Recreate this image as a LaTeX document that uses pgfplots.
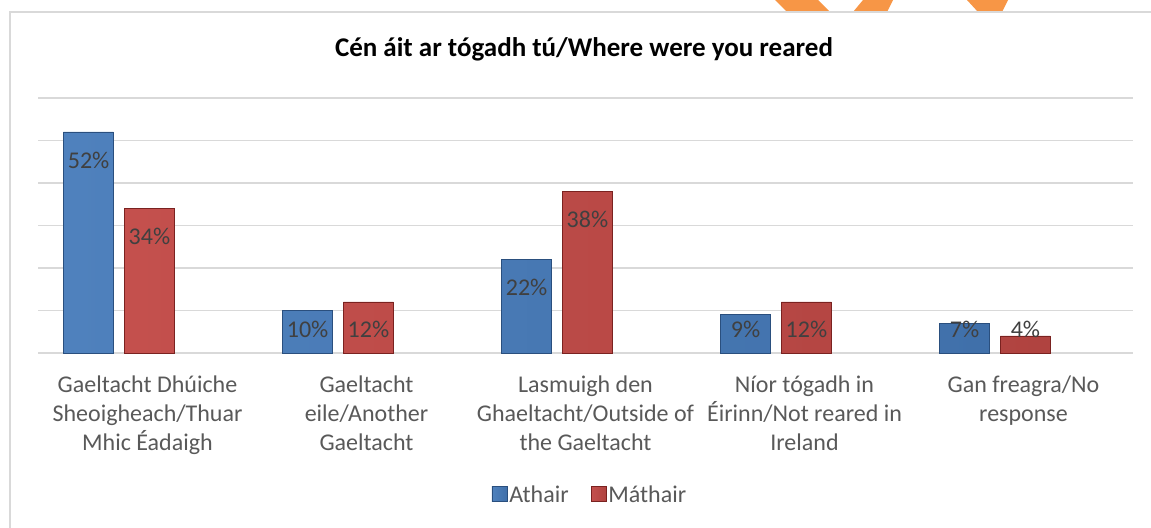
\documentclass[border=0pt]{standalone}
\usepackage{fontspec}
\setmainfont{Carlito}
\usepackage{pgfplots}
\usepackage{pgfplotstable}
\pgfplotsset{compat=1.18}
\definecolor{gridc}{HTML}{D9D9D9}
\definecolor{ticktext}{HTML}{595959}
\definecolor{labtext}{HTML}{404040}
\definecolor{orng}{HTML}{F79646}
\definecolor{bA}{HTML}{6A9AD6}
\definecolor{bB}{HTML}{4F81BD}
\definecolor{bC}{HTML}{4070AA}
\definecolor{bE}{HTML}{2A4F7E}
\definecolor{rA}{HTML}{DA6662}
\definecolor{rB}{HTML}{C4504D}
\definecolor{rC}{HTML}{B04340}
\definecolor{rE}{HTML}{7A2220}

\pgfplotstableread{
x v ly
0 52 45.4
1 10 5.6
2 22 15.4
3 9 5.6
4 7 5.6
}\athair
\pgfplotstableread{
x v ly
0 34 27.4
1 12 5.6
2 38 31.4
3 12 5.6
4 4 5.6
}\mathair

\begin{document}
\begin{tikzpicture}
\useasboundingbox (0,0) rectangle (1151bp,528bp);
\fill[white] (0,0) rectangle (1151bp,528bp);
% decorative orange shapes at the top
\fill[orng] (775bp,528bp) -- (818bp,528bp) -- (830bp,516bp) -- (787bp,516bp) -- cycle;
\fill[orng] (863bp,528bp) -- (893bp,528bp) -- (887bp,516bp) -- (853bp,516bp) -- cycle;
\fill[orng] (967bp,528bp) -- (1008bp,528bp) -- (1002bp,516bp) -- (978bp,516bp) -- cycle;
% frame
\draw[gridc, line width=1.5bp] (10bp,0bp) -- (10bp,516bp) -- (1151bp,516bp);
% title
\node[font=\fontsize{27bp}{32bp}\selectfont\bfseries, text=black] at (584bp,479bp) {Cén áit ar tógadh tú/Where were you reared};
\begin{axis}[
  at={(38bp,175bp)}, anchor=south west,
  scale only axis, width=1095bp, height=255bp,
  xmin=-0.5, xmax=4.5, ymin=0, ymax=60,
  ytick={0,10,...,60}, yticklabels={},
  ymajorgrids, grid style={gridc, line width=1.5bp},
  axis line style={draw=none},
  major tick length=0pt,
  xtick={0,1,2,3,4},
  xticklabels={{Gaeltacht Dhúiche\\Sheoigheach/Thuar\\Mhic Éadaigh},
               {Gaeltacht\\eile/Another\\Gaeltacht},
               {Lasmuigh den\\Ghaeltacht/Outside of\\the Gaeltacht},
               {Níor tógadh in\\Éirinn/Not reared in\\Ireland},
               {Gan freagra/No\\response}},
  xticklabel style={align=center, font=\fontsize{24bp}{29bp}\selectfont, text=ticktext, inner sep=0pt, yshift=-23bp},
  legend style={at={(0.504,-0.556)}, anchor=center, draw=none, fill=none,
     font=\fontsize{24bp}{29bp}\selectfont, text=ticktext, legend columns=-1,
     /tikz/every even column/.append style={column sep=20bp}},
  legend image code/.code={\fill[#1] (0bp,-7bp) rectangle (15bp,8bp);},
  clip=false,
]
\addplot[ybar, bar width=50bp, bar shift=-59bp, draw=bE, line width=0.8bp,
  left color=bB, middle color=bA, right color=bC]
  table[x=x, y=v] {\athair};
\addlegendentry{Athair}
\addplot[ybar, bar width=50bp, bar shift=2bp, draw=rE, line width=0.8bp,
  left color=rB, middle color=rA, right color=rC]
  table[x=x, y=v] {\mathair};
\addlegendentry{Máthair}
% data labels
\addplot[forget plot, draw=none, mark=none, only marks,
  point meta=explicit symbolic,
  nodes near coords={\pgfplotspointmeta\%},
  every node near coord/.append style={anchor=center, text=labtext, font=\fontsize{24bp}{29bp}\selectfont}]
  table[x expr=\thisrow{x}-0.269, y=ly, meta=v] {\athair};
\addplot[forget plot, draw=none, mark=none, only marks,
  point meta=explicit symbolic,
  nodes near coords={\pgfplotspointmeta\%},
  every node near coord/.append style={anchor=center, text=labtext, font=\fontsize{24bp}{29bp}\selectfont}]
  table[x expr=\thisrow{x}+0.009, y=ly, meta=v] {\mathair};
\end{axis}
\end{tikzpicture}
\end{document}
